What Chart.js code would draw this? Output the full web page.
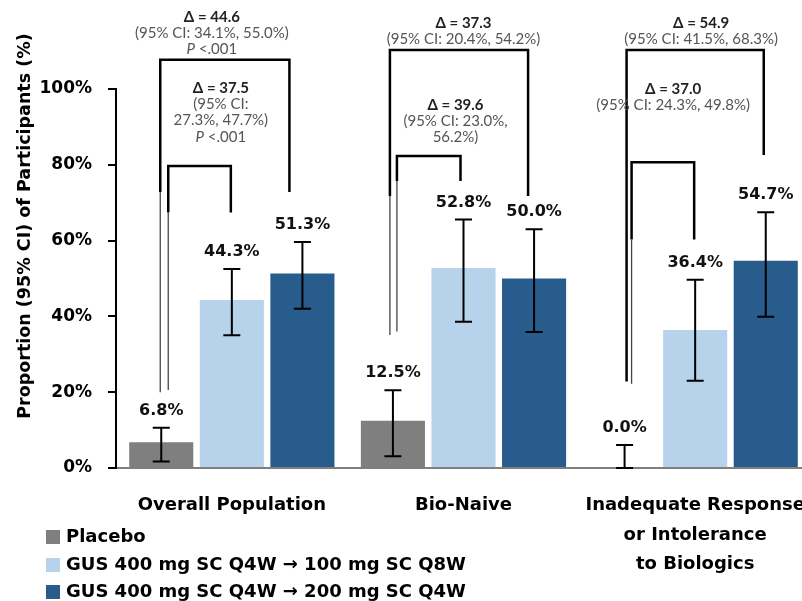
<!DOCTYPE html>
<html>
<head>
<meta charset="utf-8">
<script src="https://cdn.jsdelivr.net/npm/chart.js@4.4.0/dist/chart.umd.min.js"></script>
<style>
    html, body { margin: 0; padding: 0; background: #fff; overflow: hidden; }
    #wrap { width: 802px; height: 601px; overflow: hidden; }
</style>
</head>
<body>
<div id="wrap"><canvas id="chart" width="811" height="601"></canvas></div>
<script>
// categories / series
const categories = [['Overall Population'], ['Bio-Naive'], ['Inadequate Response', 'or Intolerance', 'to Biologics']];
const seriesNames = ['Placebo', 'GUS 400 mg SC Q4W \u2192 100 mg SC Q8W', 'GUS 400 mg SC Q4W \u2192 200 mg SC Q4W'];
const seriesColors = ['#7f7f7f', '#b7d3eb', '#275c8d'];

// proportions (%)
const placebo = [6.8, 12.5, 0.0];
const gus100 = [44.3, 52.8, 36.4];
const gus200 = [51.3, 50.0, 54.7];

// 95% CI
const placeboLow = [1.7, 3.1, 0.0];
const placeboHigh = [10.6, 20.5, 6.1];
const gus100Low = [35.0, 38.6, 23.0];
const gus100High = [52.5, 65.6, 49.7];
const gus200Low = [42.0, 35.9, 39.9];
const gus200High = [59.6, 63.0, 67.5];

const yTicks = [0, 20, 40, 60, 80, 100];
const yTitle = 'Proportion (95% CI) of Participants (%)';

// comparison texts (vs placebo)
const outerNotes = [
    ['\u0394 = 44.6', '(95% CI: 34.1%, 55.0%)', 'P <.001'],
    ['\u0394 = 37.3', '(95% CI: 20.4%, 54.2%)'],
    ['\u0394 = 54.9', '(95% CI: 41.5%, 68.3%)']
];
const innerNotes = [
    ['\u0394 = 37.5', '(95% CI:', '27.3%, 47.7%)', 'P <.001'],
    ['\u0394 = 39.6', '(95% CI: 23.0%,', '56.2%)'],
    ['\u0394 = 37.0', '(95% CI: 24.3%, 49.8%)']
];

const lows = [placeboLow, gus100Low, gus200Low];
const highs = [placeboHigh, gus100High, gus200High];

// bracket layout (y in axis units, dx in px from bar centre)
const brackets = [
    { cat: 0, to: 2, dxL: -1, dxR: -13, top: 107.7, rightEnd: 72.8, leftEnd: 20.0, full: false },
    { cat: 0, to: 1, dxL: 7, dxR: -1, top: 79.7, rightEnd: 67.4, leftEnd: 20.6, full: false },
    { cat: 1, to: 2, dxL: -3, dxR: -6, top: 110.3, rightEnd: 71.8, leftEnd: 35.1, full: false },
    { cat: 1, to: 1, dxL: 4, dxR: -3, top: 82.3, rightEnd: 75.7, leftEnd: 36.0, full: false },
    { cat: 2, to: 2, dxL: 2, dxR: -2, top: 110.3, rightEnd: 82.6, leftEnd: 22.8, full: true },
    { cat: 2, to: 1, dxL: 7, dxR: -1, top: 80.7, rightEnd: 60.3, leftEnd: 22.2, full: false }
];
const noteSpots = [
    { cat: 0, dx: -20, y: 119.0, lines: outerNotes[0] },
    { cat: 0, dx: -11, y: 100.3, lines: innerNotes[0] },
    { cat: 1, dx: 0, y: 117.4, lines: outerNotes[1] },
    { cat: 1, dx: -8, y: 95.8, lines: innerNotes[1] },
    { cat: 2, dx: 6, y: 117.4, lines: outerNotes[2] },
    { cat: 2, dx: -22, y: 100.0, lines: innerNotes[2] }
];

const BOLD = 'DejaVu Sans';

const extras = {
    id: 'extras',
    afterDatasetsDraw(chart) {
        const ctx = chart.ctx;
        const y = chart.scales.y;
        ctx.save();

        // error bars + value labels
        chart.data.datasets.forEach((ds, i) => {
            const meta = chart.getDatasetMeta(i);
            meta.data.forEach((bar, j) => {
                const x = bar.x;
                const yl = y.getPixelForValue(lows[i][j]);
                const yh = y.getPixelForValue(highs[i][j]);
                ctx.strokeStyle = '#000';
                ctx.lineWidth = 2;
                ctx.beginPath();
                ctx.moveTo(x, yl); ctx.lineTo(x, yh);
                ctx.moveTo(x - 8.5, yl); ctx.lineTo(x + 8.5, yl);
                ctx.moveTo(x - 8.5, yh); ctx.lineTo(x + 8.5, yh);
                ctx.stroke();

                ctx.fillStyle = '#111';
                ctx.font = 'bold 16px "' + BOLD + '"';
                ctx.textAlign = 'center';
                ctx.textBaseline = 'middle';
                ctx.fillText(ds.data[j].toFixed(1) + '%', x, yh - 17);
            });
        });

        // brackets
        brackets.forEach(b => {
            const xL = chart.getDatasetMeta(0).data[b.cat].x + b.dxL;
            const xR = chart.getDatasetMeta(b.to).data[b.cat].x + b.dxR;
            const yTop = y.getPixelForValue(b.top);
            const yR = y.getPixelForValue(b.rightEnd);
            const yL = y.getPixelForValue(b.leftEnd);
            ctx.strokeStyle = '#000';
            ctx.lineWidth = 2.5;
            ctx.lineJoin = 'miter';
            ctx.beginPath();
            ctx.moveTo(xL, b.full ? yL : yR);
            ctx.lineTo(xL, yTop);
            ctx.lineTo(xR, yTop);
            ctx.lineTo(xR, yR);
            ctx.stroke();
            if (!b.full) {
                ctx.strokeStyle = '#444';
                ctx.lineWidth = 1.3;
                ctx.beginPath();
                ctx.moveTo(xL, yR);
                ctx.lineTo(xL, yL);
                ctx.stroke();
            }
        });

        // comparison notes
        noteSpots.forEach(n => {
            const cx = chart.scales.x.getPixelForValue(n.cat) + n.dx;
            let ty = y.getPixelForValue(n.y);
            n.lines.forEach((line, k) => {
                ctx.textBaseline = 'middle';
                if (k === 0) {
                    ctx.font = 'bold 15px Lato, "Liberation Serif"';
                    ctx.fillStyle = '#222';
                    ctx.textAlign = 'center';
                    ctx.fillText(line, cx, ty);
                } else if (line.startsWith('P ')) {
                    ctx.fillStyle = '#555';
                    ctx.font = 'italic 15px Lato';
                    const wP = ctx.measureText('P').width;
                    ctx.font = '15px Lato';
                    const rest = line.slice(1);
                    const wR = ctx.measureText(rest).width;
                    const x0 = cx - (wP + wR) / 2;
                    ctx.textAlign = 'left';
                    ctx.font = 'italic 15px Lato';
                    ctx.fillText('P', x0, ty);
                    ctx.font = '15px Lato';
                    ctx.fillText(rest, x0 + wP, ty);
                } else {
                    ctx.font = '15px Lato';
                    ctx.fillStyle = '#555';
                    ctx.textAlign = 'center';
                    ctx.fillText(line, cx, ty);
                }
                ty += 16.3;
            });
        });

        ctx.restore();
    },
    afterDraw(chart) {
        const ctx = chart.ctx;
        ctx.save();
        // y axis title
        ctx.translate(25, 226);
        ctx.rotate(-Math.PI / 2);
        ctx.font = 'bold 17.5px "' + BOLD + '"';
        ctx.fillStyle = '#000';
        ctx.textAlign = 'center';
        ctx.textBaseline = 'middle';
        ctx.fillText(yTitle, 0, 0);
        ctx.restore();

        // legend
        ctx.save();
        const rows = [537, 565, 592];
        chart.data.datasets.forEach((ds, i) => {
            ctx.fillStyle = ds.backgroundColor;
            ctx.fillRect(46, rows[i] - 7, 14, 14);
            ctx.fillStyle = '#000';
            ctx.font = 'bold 18px "' + BOLD + '"';
            ctx.textAlign = 'left';
            ctx.textBaseline = 'middle';
            ctx.fillText(ds.label, 66, rows[i]);
        });
        ctx.restore();
    }
};

const seriesData = [placebo, gus100, gus200];

new Chart(document.getElementById('chart'), {
    type: 'bar',
    data: {
        labels: categories,
        datasets: seriesNames.map((name, i) => ({
            label: name,
            data: seriesData[i],
            backgroundColor: seriesColors[i],
            borderWidth: 0,
            barPercentage: 0.908,
            categoryPercentage: 0.914
        }))
    },
    options: {
        responsive: false,
        animation: false,
        layout: { padding: { top: 89, bottom: 0, left: 0, right: 0 } },
        plugins: {
            legend: { display: false },
            tooltip: { enabled: false }
        },
        scales: {
            x: {
                grid: { display: false, drawTicks: false },
                border: { color: '#7f7f7f', width: 2 },
                afterFit: s => { s.height = 133; s.paddingLeft = 0; s.paddingRight = 0; },
                ticks: {
                    color: '#000',
                    padding: 23,
                    maxRotation: 0,
                    autoSkip: false,
                    font: { family: BOLD, weight: 'bold', size: 18, lineHeight: 1.64 }
                }
            },
            y: {
                min: 0,
                max: 100,
                afterBuildTicks: s => { s.ticks = yTicks.map(v => ({ value: v })); },
                afterFit: s => { s.width = 116; },
                grid: { drawOnChartArea: false, drawTicks: true, tickLength: 8, color: '#000', lineWidth: 2 },
                border: { color: '#000', width: 2 },
                ticks: {
                    color: '#000',
                    padding: 16,
                    font: { family: BOLD, weight: 'bold', size: 17 },
                    callback: v => v + '%'
                }
            }
        }
    },
    plugins: [extras]
});
</script>
</body>
</html>
